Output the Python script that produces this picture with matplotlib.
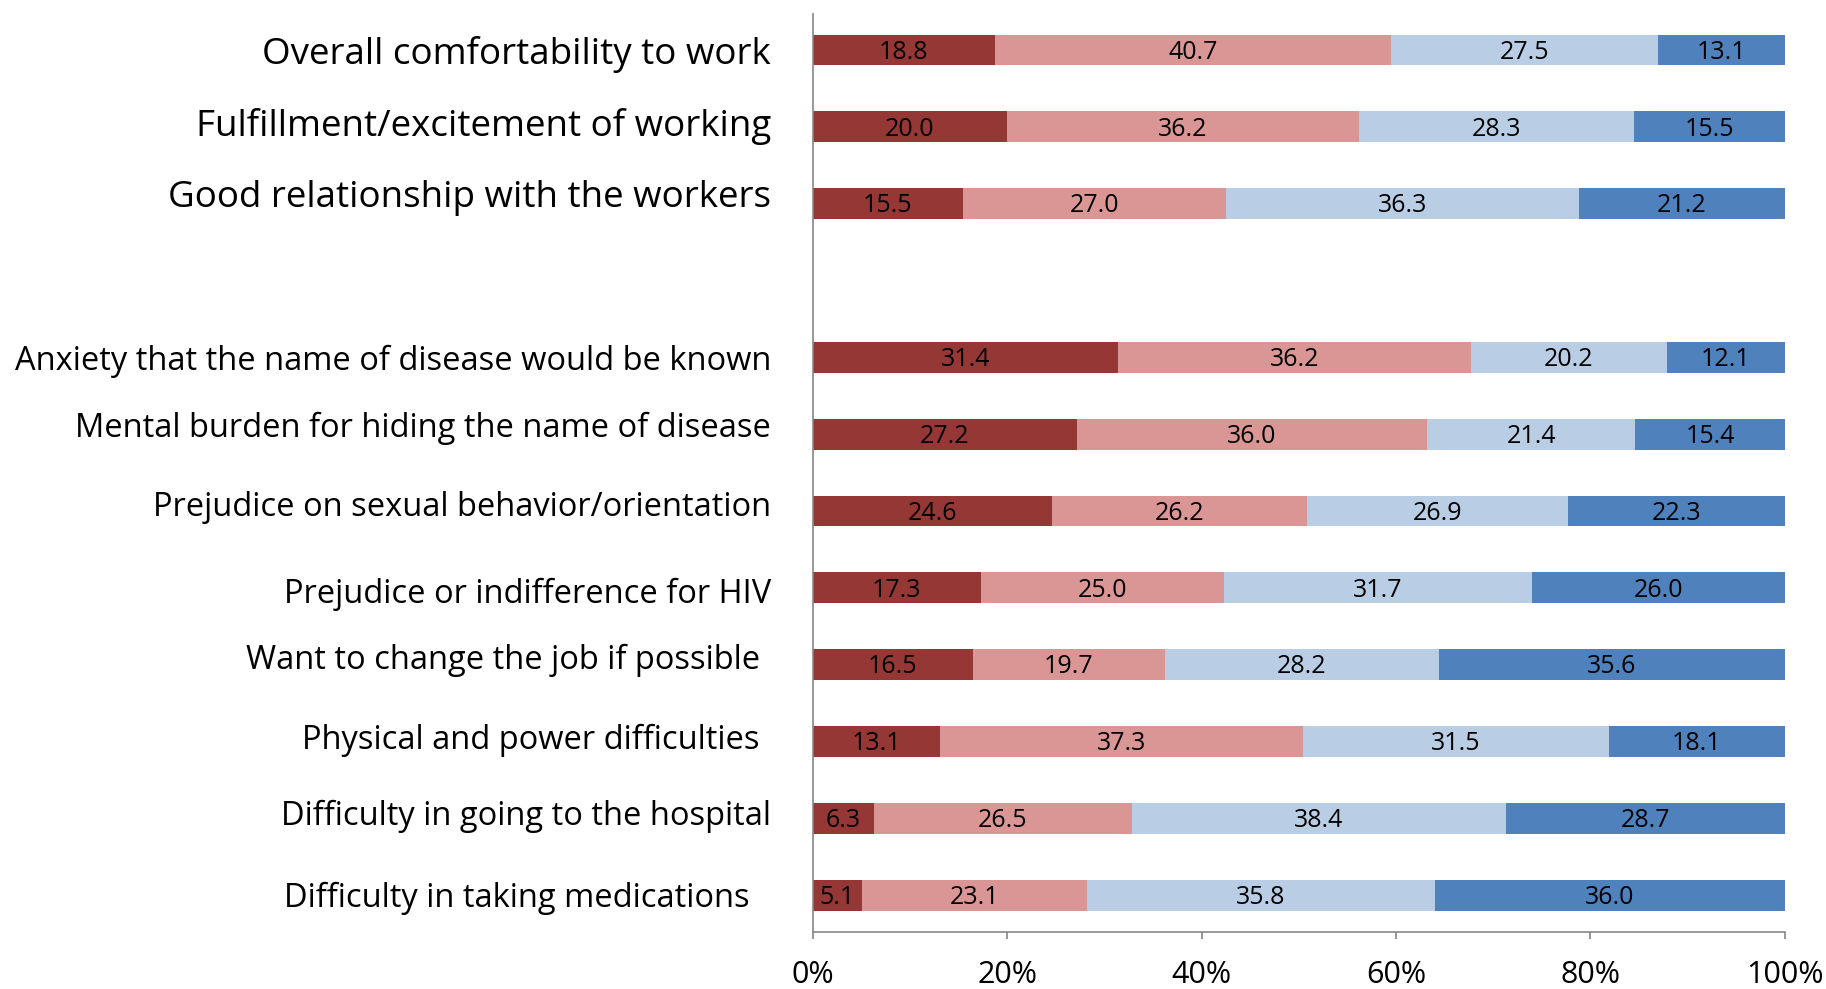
import numpy as np
import matplotlib
matplotlib.use("Agg")
import matplotlib.pyplot as plt
from matplotlib import font_manager
from matplotlib.transforms import ScaledTranslation

# categories, top to bottom ("" is the empty gap row)
categories = [
    "Overall comfortability to work",
    "Fulfillment/excitement of working",
    "Good relationship with the workers",
    "",
    "Anxiety that the name of disease would be known",
    "Mental burden for hiding the name of disease",
    "Prejudice on sexual behavior/orientation",
    "Prejudice or indifference for HIV",
    "Want to change the job if possible",
    "Physical and power difficulties",
    "Difficulty in going to the hospital",
    "Difficulty in taking medications",
]
# four response levels (percent), None for the gap row
level1 = [18.8, 20.0, 15.5, None, 31.4, 27.2, 24.6, 17.3, 16.5, 13.1, 6.3, 5.1]
level2 = [40.7, 36.2, 27.0, None, 36.2, 36.0, 26.2, 25.0, 19.7, 37.3, 26.5, 23.1]
level3 = [27.5, 28.3, 36.3, None, 20.2, 21.4, 26.9, 31.7, 28.2, 31.5, 38.4, 35.8]
level4 = [13.1, 15.5, 21.2, None, 12.1, 15.4, 22.3, 26.0, 35.6, 18.1, 28.7, 36.0]
colors = ["#953735", "#D99694", "#B9CDE5", "#4F81BD"]
xticks = [0, 20, 40, 60, 80, 100]

# pick a narrow font if there is one
try:
    font_manager.findfont("Liberation Sans Narrow", fallback_to_default=False)
    fam = "Liberation Sans Narrow"
    big, small, num_size, tick_size = 31, 28, 19, 25
except Exception:
    fam = "Open Sans"
    big, small, num_size, tick_size = 26.5, 23.5, 18, 22
plt.rcParams['font.family'] = [fam, 'DejaVu Sans']

fig = plt.figure(figsize=(18.26, 9.89), dpi=100)
ax = fig.add_axes([0.445, 0.0576, 0.5325, 0.9284])

levels = [level1, level2, level3, level4]
y = np.arange(len(categories))
rows = [i for i in range(len(categories)) if level1[i] is not None]
totals = {i: sum(l[i] for l in levels) for i in rows}
left = {i: 0.0 for i in rows}
for lvl, col in zip(levels, colors):
    ys = [y[i] for i in rows]
    w = [lvl[i] / totals[i] * 100 for i in rows]
    l0 = [left[i] for i in rows]
    ax.barh(ys, w, left=l0, height=0.4, color=col, edgecolor='none')
    for yy, ww, ll, i in zip(ys, w, l0, rows):
        ax.text(ll + ww / 2, yy + 0.03, f"{lvl[i]:.1f}", ha='center', va='center',
                fontsize=num_size, color='black')
        left[i] += ww

ax.set_xlim(0, 100)
ax.set_ylim(len(categories) - 0.52, -0.47)
ax.set_xticks(xticks)
ax.set_xticklabels([f"{t}%" for t in xticks], fontsize=tick_size)
ax.tick_params(axis='x', direction='out', length=5, width=1.2, color='#868686', pad=15)
ax.set_yticks(y)
ax.set_yticklabels(categories)
ax.tick_params(axis='y', length=0, pad=30)

# the labels in the original sit a little off their bars
pads = [30, 30, 30, 30, 30, 30, 30, 30, 38, 38, 30, 45]
dys = [0, -5, -10, 0, 0, -10, -7, 3, -8, -5, -6, -1]
for k, (tick, p, dy) in enumerate(zip(ax.yaxis.get_major_ticks(), pads, dys)):
    tick.set_pad(p)
    lab = tick.label1
    lab.set_fontsize(big if k < 3 else small)
    lab.set_transform(lab.get_transform() + ScaledTranslation(0, -dy / 100, fig.dpi_scale_trans))

for s in ['top', 'right']:
    ax.spines[s].set_visible(False)
ax.spines['left'].set_color('#868686')
ax.spines['bottom'].set_color('#868686')
ax.spines['left'].set_linewidth(1.2)
ax.spines['bottom'].set_linewidth(1.2)

fig.savefig("out.png", dpi=100)
